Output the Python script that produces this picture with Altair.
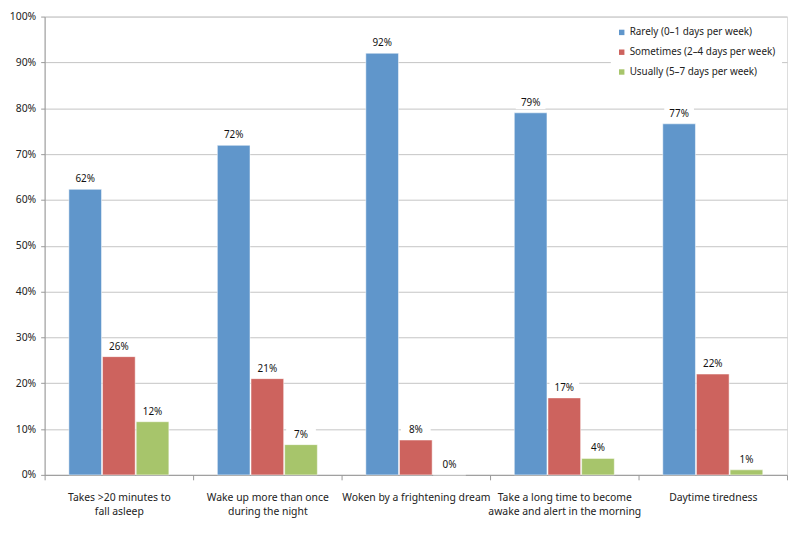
import altair as alt
import pandas as pd

categories = [
    "Takes >20 minutes to|fall asleep",
    "Wake up more than once|during the night",
    "Woken by a frightening dream",
    "Take a long time to become|awake and alert in the morning",
    "Daytime tiredness",
]
series = [
    "Rarely (0–1 days per week)",
    "Sometimes (2–4 days per week)",
    "Usually (5–7 days per week)",
]
rarely = [62.3, 71.9, 92.0, 79.0, 76.6]
sometimes = [25.8, 21.0, 7.6, 16.8, 22.0]
usually = [11.6, 6.6, 0.0, 3.6, 1.1]
colors = ["#6096CB", "#CD635E", "#A7C56B"]

rows = []
for s, vals in zip(series, [rarely, sometimes, usually]):
    for c, v in zip(categories, vals):
        rows.append({"category": c, "series": s, "value": v})
df = pd.DataFrame(rows)

FONT = "Noto Sans"

x = alt.X(
    "category:N",
    sort=categories,
    scale=alt.Scale(paddingInner=0, paddingOuter=0),
    axis=alt.Axis(
        title=None,
        labelAngle=0,
        labelExpr="split(datum.label, '|')",
        tickBand="extent",
        tickSize=5,
        tickColor="#999999",
        domainColor="#999999",
        labelPadding=13,
        labelFontSize=10.5,
        labelLineHeight=14,
        labelColor="#222222",
        labelFont=FONT,
        labelBaseline="top",
        labelLimit=300,
        grid=False,
    ),
)
xo = alt.XOffset(
    "series:N",
    sort=series,
    scale=alt.Scale(paddingInner=0.03, paddingOuter=0.72),
)
y = alt.Y(
    "value:Q",
    scale=alt.Scale(domain=[0, 100], nice=False),
    axis=alt.Axis(
        title=None,
        values=list(range(0, 101, 10)),
        labelExpr="datum.value + '%'",
        tickSize=4,
        tickColor="#999999",
        domainColor="#999999",
        gridColor="#C4C4C4",
        labelPadding=5,
        labelFontSize=10.5,
        labelColor="#222222",
        labelFont=FONT,
    ),
)
color = alt.Color(
    "series:N",
    sort=series,
    scale=alt.Scale(domain=series, range=colors),
    legend=alt.Legend(
        title=None,
        orient="none",
        legendX=572,
        legendY=5,
        fillColor="white",
        padding=6,
        symbolType="square",
        symbolSize=30,
        symbolStrokeWidth=0,
        labelFontSize=10,
        labelFont=FONT,
        labelColor="#222222",
        rowPadding=10,
        labelLimit=300,
        labelOffset=3,
    ),
)

base = alt.Chart(df).encode(x=x, xOffset=xo)

bars = base.mark_bar(stroke="#ffffff", strokeOpacity=0.5, strokeWidth=1).encode(y=y, color=color)

boxes = base.mark_point(
    shape="M-1,-0.42H1V0.42H-1Z",
    filled=True,
    color="white",
    opacity=1,
    size=900,
    yOffset=-10,
).encode(y=alt.Y("value:Q"))

text = base.mark_text(
    dy=-10, fontSize=10, font=FONT, color="#111111", baseline="middle"
).transform_calculate(
    label="format(datum.value, '.0f') + '%'"
).encode(y=alt.Y("value:Q"), text="label:N")

chart = (
    alt.layer(bars, boxes, text)
    .properties(
        width=750,
        height=463,
        autosize=alt.AutoSizeParams(type="none"),
        padding={"left": 37, "top": 6, "right": 2, "bottom": 50},
    )
    .configure_view(stroke=None)
    .configure(background="white")
)

chart.save("out.html", embed_options={"renderer": "svg", "actions": False})
